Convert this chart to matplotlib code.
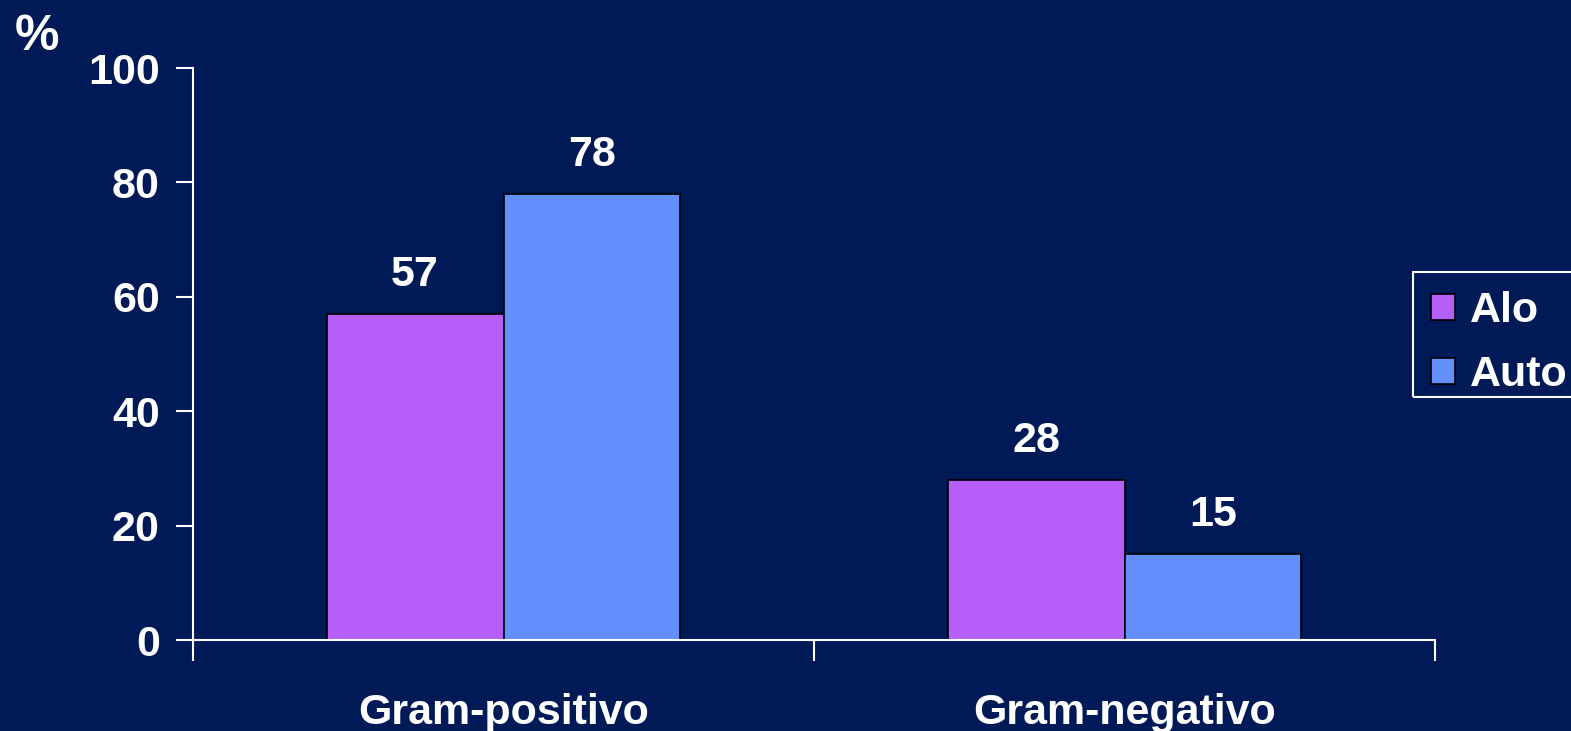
import matplotlib.pyplot as plt
from matplotlib.patches import Rectangle
import numpy as np

categorias = ["Gram-positivo", "Gram-negativo"]
alo = [57, 28]
auto = [78, 15]
series = ["Alo", "Auto"]

fondo = "#001a57"
c_alo = "#b65ef8"
c_auto = "#6490ff"
fs = 31

plt.rcParams['font.family'] = ['Liberation Sans', 'DejaVu Sans']
plt.rcParams['font.weight'] = 'bold'

fig = plt.figure(figsize=(15.71, 7.31), dpi=100, facecolor=fondo)
ax = fig.add_axes([193/1571, 1-640/731, (1435-193)/1571, (640-68)/731])
ax.set_facecolor(fondo)

x = np.arange(len(categorias))
w = 0.285
ax.bar(x - w/2, alo, w, color=c_alo, edgecolor="black", linewidth=1.2, label=series[0])
ax.bar(x + w/2, auto, w, color=c_auto, edgecolor="black", linewidth=1.2, label=series[1])

# etiquetas de valores
for xi, v in list(zip(x - w/2, alo)) + list(zip(x + w/2, auto)):
    ax.annotate(str(v), (xi, v), xytext=(0, 20), textcoords="offset points",
                ha="center", va="baseline", color="white", fontsize=fs, fontweight="bold")

ax.set_xlim(-0.5, 1.5)
ax.set_ylim(0, 100)
ax.set_yticks(range(0, 101, 20))
ax.tick_params(axis="y", colors="white", labelsize=fs, length=12, width=1.5, pad=12)
ax.set_xticks([-0.5, 0.5, 1.5])
ax.set_xticklabels([])
ax.tick_params(axis="x", which="major", colors="white", length=15, width=1.5)
ax.set_xticks(x, minor=True)
ax.set_xticklabels(categorias, minor=True)
ax.tick_params(axis="x", which="minor", length=0, colors="white", labelsize=fs, pad=38)
for lab in ax.get_yticklabels() + ax.get_xticklabels(minor=True):
    lab.set_fontweight("bold")

for s in ["top", "right"]:
    ax.spines[s].set_visible(False)
for s in ["left", "bottom"]:
    ax.spines[s].set_color("white")
    ax.spines[s].set_linewidth(1.5)

fig.text(15/1571, 1-50/731, "%", color="white", fontsize=36, fontweight="bold")

# leyenda sin marco + marco propio
leg = fig.legend(loc="upper left", bbox_to_anchor=(1426/1571, 1-286/731),
                 frameon=False, fontsize=fs, handlelength=0.55, handleheight=0.55,
                 handletextpad=0.35, borderaxespad=0, labelspacing=0.55, borderpad=0.12)
for t in leg.get_texts():
    t.set_color("white")
    t.set_fontweight("bold")
fig.patches.append(Rectangle((1413/1571, 1-397/731), 170/1571, 125/731,
                             transform=fig.transFigure, fill=False,
                             edgecolor="white", linewidth=1.5))

fig.savefig("out.png", facecolor=fondo)
